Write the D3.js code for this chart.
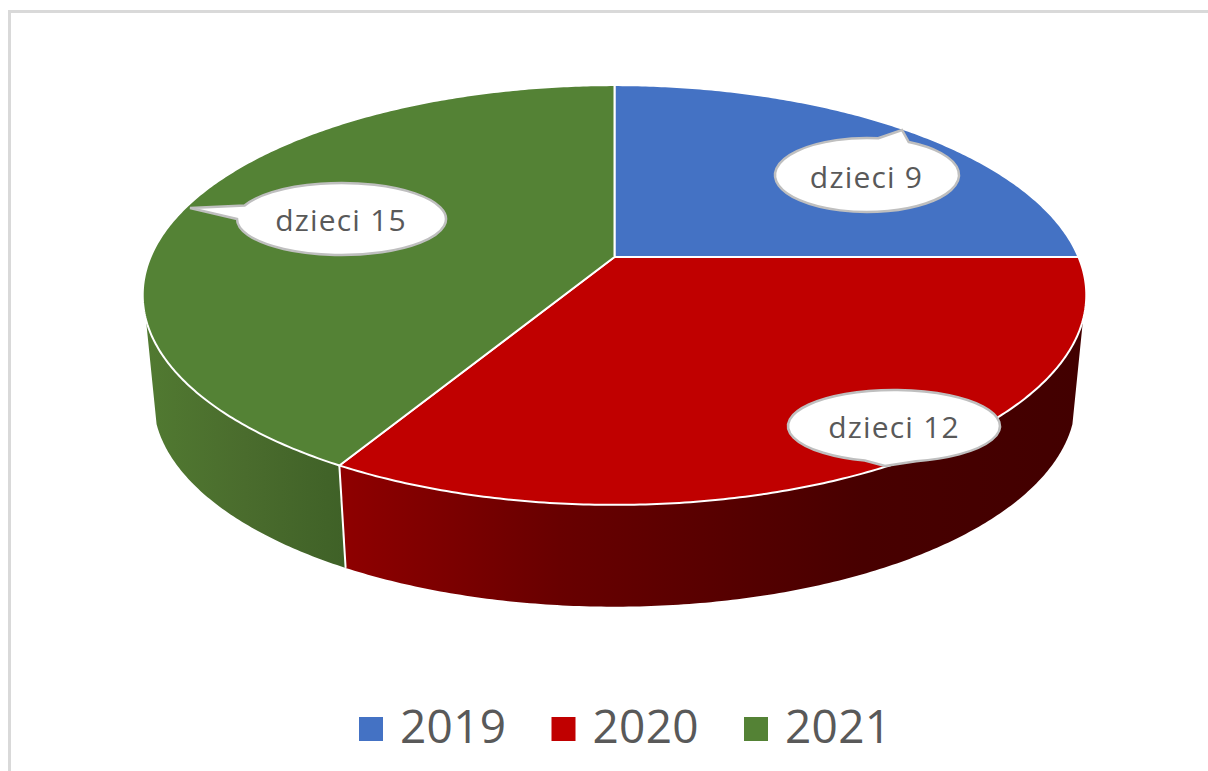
<!DOCTYPE html>
<html>
<head>
<meta charset="utf-8">
<script src="https://cdn.jsdelivr.net/npm/d3@7"></script>
<style>
    html, body { margin: 0; padding: 0; background: #fff; }
    svg { display: block; }
    text { font-family: "Open Sans", sans-serif; fill: #595959; }
</style>
</head>
<body>
<div id="chart"></div>
<script>
const years = ['2019', '2020', '2021'];
const children = [9, 12, 15];
const labelName = 'dzieci';
const topColors = ['#4472C4', '#C00000', '#548235'];

const width = 1208, height = 771;

// perspective of the disc, fitted to the picture
const cx = 614.5, persp = 0.181;
const top3d = {y: 257, rx: 464, ry: 203};
const base3d = {y: 362.5, rx: 453.5, ry: 200};

function project(plane, angle) {
    let u = Math.sin(angle), v = -Math.cos(angle);
    let w = 1 - persp * v;
    return [cx + plane.rx * u / w, plane.y + plane.ry * v / w];
}

function arcPoints(plane, a0, a1) {
    let n = Math.max(2, Math.ceil(Math.abs(a1 - a0) / 0.01));
    return d3.range(n + 1).map(i => project(plane, a0 + (a1 - a0) * i / n));
}

let svg = d3.select('#chart')
    .append('svg')
    .attr('width', width)
    .attr('height', height);

let defs = svg.append('defs');

function wallGradient(id, x1, x2, stops) {
    let g = defs.append('linearGradient')
        .attr('id', id)
        .attr('gradientUnits', 'userSpaceOnUse')
        .attr('x1', x1).attr('x2', x2)
        .attr('y1', 0).attr('y2', 0);
    stops.forEach(s => g.append('stop').attr('offset', s[0]).attr('stop-color', s[1]));
}
wallGradient('wall1', 345, 1085, [[0, '#8e0000'], [0.29, '#680000'], [0.7, '#480000'], [1, '#420000']]);
wallGradient('wall2', 145, 345, [[0, '#517a31'], [0.5, '#4a6c2d'], [1, '#3f6127']]);

// frame of the picture, top and left only
svg.append('rect').attr('x', 8).attr('y', 10).attr('width', width - 8).attr('height', 3).attr('fill', '#d9d9d9');
svg.append('rect').attr('x', 8).attr('y', 10).attr('width', 3).attr('height', height - 10).attr('fill', '#d9d9d9');

let pie = d3.pie().sort(null).value(d => d);
let slices = pie(children);
let line = d3.line();

// side walls: only the front of the disc shows
const wallFrom = 107 * Math.PI / 180, wallTo = 253 * Math.PI / 180;
let walls = slices
    .map((d, i) => ({
        a0: Math.max(d.startAngle, wallFrom),
        a1: Math.min(d.endAngle, wallTo),
        fill: 'url(#wall' + i + ')'
    }))
    .filter(d => d.a1 > d.a0);

svg.selectAll('path.wall')
    .data(walls)
    .enter()
    .append('path')
    .attr('class', 'wall')
    .attr('fill', d => d.fill)
    .attr('d', d => line(arcPoints(top3d, d.a0, d.a1).concat(arcPoints(base3d, d.a1, d.a0))) + 'Z');

// divider between the walls
let divAngle = slices[1].endAngle;
svg.append('path')
    .attr('fill', 'none')
    .attr('stroke', '#fff')
    .attr('stroke-width', 2)
    .attr('d', line([project(top3d, divAngle), project(base3d, divAngle)]));

// top face
svg.selectAll('path.slice')
    .data(slices)
    .enter()
    .append('path')
    .attr('class', 'slice')
    .attr('fill', (d, i) => topColors[i])
    .attr('stroke', '#fff')
    .attr('stroke-width', 2)
    .attr('stroke-linejoin', 'round')
    .attr('d', d => line([[cx, top3d.y]].concat(arcPoints(top3d, d.startAngle, d.endAngle))) + 'Z');

// callouts
const callouts = [
    {cx: 867, cy: 175, rx: 92, ry: 37, tip: [902, 130], a0: -83, a1: -63, tx: 866.5, ty: 188},
    {cx: 894, cy: 426, rx: 106, ry: 36, tip: [885, 466], a0: 78, a1: 106, tx: 894, ty: 438},
    {cx: 341.5, cy: 219, rx: 104.5, ry: 36, tip: [190, 208], a0: 180, a1: 202, tx: 341, ty: 231}
];

function calloutPath(c) {
    let p = a => [c.cx + c.rx * Math.cos(a * Math.PI / 180), c.cy + c.ry * Math.sin(a * Math.PI / 180)];
    let b0 = p(c.a0), b1 = p(c.a1);
    return 'M' + b0 + 'L' + c.tip + 'L' + b1 + 'A' + c.rx + ' ' + c.ry + ' 0 1 1 ' + b0 + 'Z';
}

let labels = svg.selectAll('g.callout')
    .data(callouts)
    .enter()
    .append('g')
    .attr('class', 'callout');

labels.append('path')
    .attr('d', calloutPath)
    .attr('fill', '#fff')
    .attr('stroke', '#bfbfbf')
    .attr('stroke-width', 2.5);

labels.append('text')
    .attr('x', d => d.tx)
    .attr('y', d => d.ty)
    .attr('text-anchor', 'middle')
    .attr('font-size', 30)
    .attr('letter-spacing', 1.2)
    .text((d, i) => labelName + ' ' + children[i]);

// legend
let legendX = d3.scalePoint().domain(years).range([359, 744]);

let legend = svg.selectAll('g.legend')
    .data(years)
    .enter()
    .append('g')
    .attr('class', 'legend')
    .attr('transform', d => 'translate(' + legendX(d) + ',717)');

legend.append('rect')
    .attr('width', 24)
    .attr('height', 24)
    .attr('fill', (d, i) => topColors[i]);

legend.append('text')
    .attr('x', 41)
    .attr('y', 26)
    .attr('font-size', 46)
    .attr('letter-spacing', 0.3)
    .text(d => d);
</script>
</body>
</html>
